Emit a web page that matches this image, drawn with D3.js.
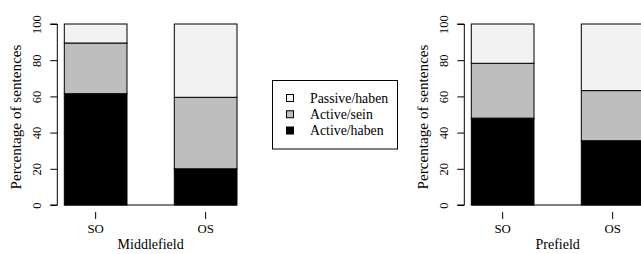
<!DOCTYPE html>
<html><head><meta charset="utf-8">
<script src="https://cdn.jsdelivr.net/npm/d3@7"></script>
<style>body{margin:0;background:#fff}svg{display:block}text{font-family:"Liberation Serif","Times New Roman",serif;fill:#000}</style>
</head><body><svg id="c" width="641" height="254"></svg>
<script>
const categories = ["SO", "OS"];
const seriesNames = ["Active/haben", "Active/sein", "Passive/haben"];
const middlefieldActiveHaben = [61.5, 20];
const middlefieldActiveSein = [28, 39.5];
const middlefieldPassiveHaben = [10.5, 40.5];
const prefieldActiveHaben = [48, 35.5];
const prefieldActiveSein = [30.3, 27.7];
const prefieldPassiveHaben = [21.7, 36.8];
const yTicks = [0, 20, 40, 60, 80, 100];
const colors = ["#000000", "#bebebe", "#f2f2f2"];
const legendOrder = ["Passive/haben", "Active/sein", "Active/haben"];

const svg = d3.select("#c");
const y = d3.scaleLinear().domain([0, 100]).range([205, 24]);

function panel(x0, xlabel, series, ylabelX) {
  const g = svg.append("g");
  const x = d3.scaleBand().domain(categories).range([x0 + 7, x0 + 179.7]).paddingInner(0.43).paddingOuter(0);
  const data = categories.map((c, i) => {
    const row = {cat: c};
    seriesNames.forEach((s, j) => row[s] = series[j][i]);
    return row;
  });
  const stacked = d3.stack().keys(seriesNames)(data);
  g.append("line").attr("x1", x(categories[0])).attr("x2", x(categories[1]) + x.bandwidth())
    .attr("y1", y(0)).attr("y2", y(0)).attr("stroke", "#000").attr("stroke-width", 1);
  stacked.forEach((layer, j) => {
    g.selectAll(null).data(layer).join("rect")
      .attr("x", d => x(d.data.cat))
      .attr("y", d => y(d[1]))
      .attr("width", x.bandwidth())
      .attr("height", d => y(d[0]) - y(d[1]))
      .attr("fill", colors[j]).attr("stroke", "#000").attr("stroke-width", 1);
  });
  const ya = g.append("g").attr("transform", `translate(${x0},0)`)
    .call(d3.axisLeft(y).tickValues(yTicks).tickSize(7).tickPadding(0).tickFormat(d3.format("d")));
  ya.select(".domain").attr("d", `M-7,${y(0)}H0V${y(100)}H-7`).attr("stroke-width", 1);
  ya.selectAll(".tick line").attr("stroke-width", 1);
  ya.selectAll(".tick text").attr("font-size", 12.5).attr("text-anchor", "middle")
    .attr("x", 0).attr("dy", 0)
    .attr("transform", `translate(-20.5,0) rotate(-90)`)
    .attr("dominant-baseline", "central").attr("y", 0);
  const xa = g.append("g").attr("transform", `translate(0,${y(0)})`)
    .call(d3.axisBottom(x).tickSize(8).tickPadding(5));
  xa.select(".domain").remove();
  xa.selectAll(".tick line").attr("stroke-width", 1).attr("y1", 7).attr("y2", 14);
  xa.selectAll(".tick text").attr("font-size", 12.8).attr("y", 18.5).attr("dy", "0.71em");
  g.append("text").attr("x", (x(categories[0]) + x(categories[1]) + x.bandwidth()) / 2).attr("y", 249)
    .attr("text-anchor", "middle").attr("font-size", 14).text(xlabel);
  g.append("text").attr("transform", `translate(${ylabelX},117) rotate(-90)`)
    .attr("text-anchor", "middle").attr("dominant-baseline", "central").attr("font-size", 15.2)
    .text("Percentage of sentences");
}

panel(57.3, "Middlefield", [middlefieldActiveHaben, middlefieldActiveSein, middlefieldPassiveHaben], 15);
panel(464.3, "Prefield", [prefieldActiveHaben, prefieldActiveSein, prefieldPassiveHaben], 422);

const lg = svg.append("g");
lg.append("rect").attr("x", 272.5).attr("y", 80.5).attr("width", 125).attr("height", 68.5)
  .attr("fill", "#fff").attr("stroke", "#000").attr("stroke-width", 1);
const ly = d3.scalePoint().domain(legendOrder).range([98, 130.5]);
legendOrder.forEach(name => {
  const j = seriesNames.indexOf(name);
  lg.append("rect").attr("x", 286.5).attr("y", ly(name) - 3.5).attr("width", 7).attr("height", 7)
    .attr("fill", colors[j]).attr("stroke", "#000").attr("stroke-width", 1);
  lg.append("text").attr("x", 310).attr("y", ly(name)).attr("dominant-baseline", "central")
    .attr("font-size", 13.8).text(name);
});
</script></body></html>
